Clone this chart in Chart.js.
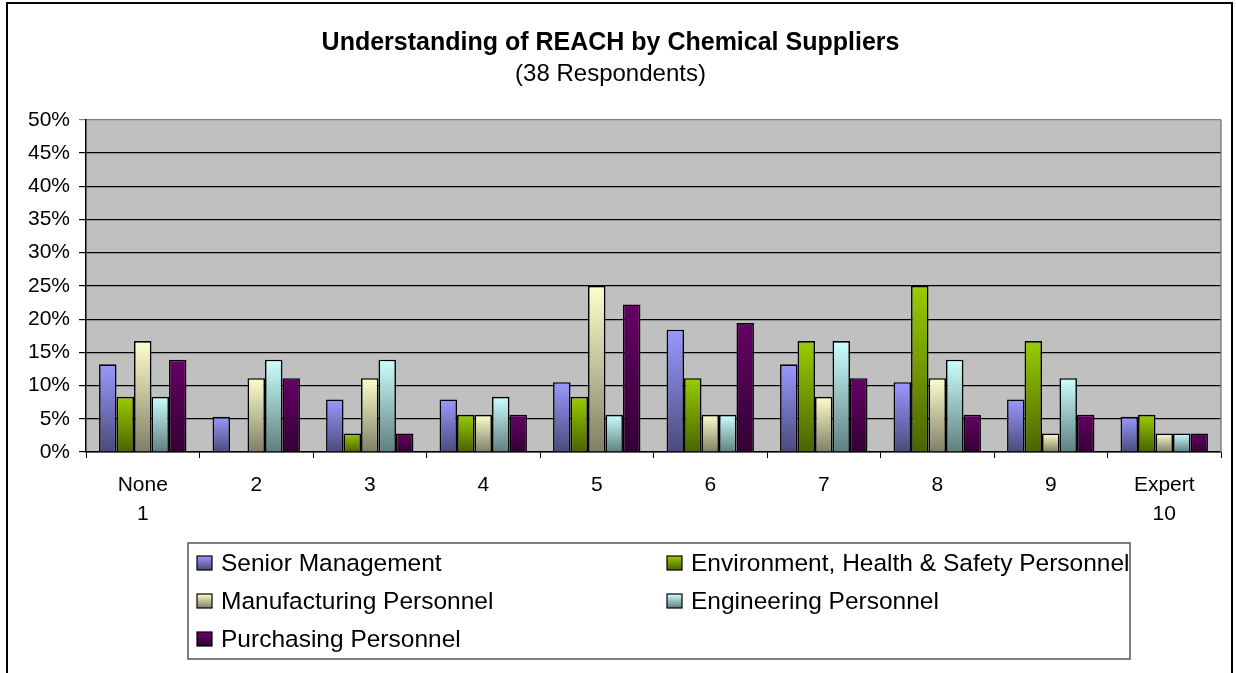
<!DOCTYPE html>
<html>
<head>
<meta charset="utf-8">
<script src="https://cdn.jsdelivr.net/npm/chart.js@4"></script>
<style>
  html, body { margin: 0; padding: 0; background: #fff; }
  #wrap { width: 1236px; height: 673px; }
</style>
</head>
<body>
<div id="wrap"><canvas id="chart"></canvas></div>
<script>
const labels = [["None", "1"], "2", "3", "4", "5", "6", "7", "8", "9", ["Expert", "10"]];
const seriesNames = [
  "Senior Management",
  "Environment, Health & Safety Personnel",
  "Manufacturing Personnel",
  "Engineering Personnel",
  "Purchasing Personnel",
];
const seniorMgmt = [13.2, 5.3, 7.9, 7.9, 10.5, 18.4, 13.2, 10.5, 7.9, 5.3];
const ehsPersonnel = [8.3, 0, 2.8, 5.6, 8.3, 11.1, 16.7, 25.0, 16.7, 5.6];
const manufacturing = [16.7, 11.1, 11.1, 5.6, 25.0, 5.6, 8.3, 11.1, 2.8, 2.8];
const engineering = [8.3, 13.9, 13.9, 8.3, 5.6, 5.6, 16.7, 13.9, 11.1, 2.8];
const purchasing = [13.9, 11.1, 2.8, 5.6, 22.2, 19.4, 11.1, 5.6, 5.6, 2.8];
const yTicks = [0, 5, 10, 15, 20, 25, 30, 35, 40, 45, 50];

const FONT = "'Liberation Sans', Arial, sans-serif";

// top / bottom colour of each bar gradient
const palette = [
  ["#9999ff", "#4a4a7c"],
  ["#99cc00", "#4a6300"],
  ["#ffffcc", "#7f7f66"],
  ["#ccffff", "#5f7f7f"],
  ["#660066", "#330033"],
];

function barFill(ctx) {
  const chart = ctx.chart;
  const c = palette[ctx.datasetIndex];
  if (!chart.chartArea || ctx.type !== "data") return c[0];
  const y = chart.scales.y;
  const top = y.getPixelForValue(ctx.raw);
  const bottom = y.getPixelForValue(0);
  if (bottom - top < 1) return c[0];
  const g = chart.ctx.createLinearGradient(0, top, 0, bottom);
  g.addColorStop(0, c[0]);
  g.addColorStop(1, c[1]);
  return g;
}

const plotBg = {
  id: "plotBg",
  beforeDraw(chart) {
    const { ctx, chartArea: a } = chart;
    ctx.save();
    ctx.fillStyle = "#c0c0c0";
    ctx.fillRect(a.left, a.top, a.right - a.left, a.bottom - a.top);
    ctx.restore();
  },
  afterDraw(chart) {
    const { ctx, chartArea: a } = chart;
    ctx.save();
    // right edge of plot
    ctx.strokeStyle = "#808080";
    ctx.lineWidth = 1.5;
    ctx.beginPath();
    ctx.moveTo(a.right, a.top);
    ctx.lineTo(a.right, a.bottom);
    ctx.stroke();
    // outer frame of the chart
    ctx.strokeStyle = "#000";
    ctx.lineWidth = 2;
    ctx.strokeRect(7, 3, 1225, 700);

    // legend
    const lx = 188, ly = 543, lw = 942, lh = 116;
    ctx.fillStyle = "#fff";
    ctx.fillRect(lx, ly, lw, lh);
    ctx.strokeStyle = "#555";
    ctx.lineWidth = 1.5;
    ctx.strokeRect(lx, ly, lw, lh);
    const cols = [197, 667];
    const rows = [563, 601, 639];
    ctx.font = "24.5px " + FONT;
    ctx.textBaseline = "middle";
    chart.data.datasets.forEach((ds, i) => {
      const x = cols[i % 2];
      const y = rows[Math.floor(i / 2)];
      const g = ctx.createLinearGradient(0, y - 7, 0, y + 7);
      g.addColorStop(0, palette[i][0]);
      g.addColorStop(1, palette[i][1]);
      ctx.fillStyle = g;
      ctx.fillRect(x, y - 7, 15, 14);
      ctx.strokeStyle = "#000";
      ctx.lineWidth = 1.2;
      ctx.strokeRect(x, y - 7, 15, 14);
      ctx.fillStyle = "#000";
      ctx.fillText(ds.label, x + 24, y + 1);
    });
    ctx.restore();
  },
};

const series = [seniorMgmt, ehsPersonnel, manufacturing, engineering, purchasing];

new Chart(document.getElementById("chart"), {
  type: "bar",
  data: {
    labels: labels,
    datasets: series.map((d, i) => ({
      label: seriesNames[i],
      data: d,
      backgroundColor: barFill,
      borderColor: "#000",
      borderWidth: 1.6,
      categoryPercentage: 0.77,
      barPercentage: 1.0,
    })),
  },
  plugins: [plotBg],
  options: {
    responsive: true,
    maintainAspectRatio: false,
    animation: false,
    layout: { padding: { left: 0, right: 15, top: 0, bottom: 141 } },
    plugins: {
      legend: { display: false },
      tooltip: { enabled: false },
      title: {
        display: true,
        text: "Understanding of REACH by Chemical Suppliers",
        color: "#000",
        font: { family: FONT, size: 25, weight: "bold", lineHeight: 1.2 },
        padding: { top: 28, bottom: 2 },
      },
      subtitle: {
        display: true,
        text: "(38 Respondents)",
        color: "#000",
        font: { family: FONT, size: 24, lineHeight: 1.2 },
        padding: { top: 0, bottom: 31 },
      },
    },
    scales: {
      x: {
        offset: true,
        grid: {
          offset: true,
          drawOnChartArea: false,
          color: "#000",
          tickLength: 6,
        },
        border: { color: "#000", width: 1.5 },
        ticks: {
          color: "#000",
          maxRotation: 0,
          autoSkip: false,
          padding: 13,
          font: { family: FONT, size: 21, lineHeight: 1.38 },
        },
        afterFit(scale) { scale.height = 80; },
      },
      y: {
        min: 0,
        max: 50,
        afterBuildTicks(scale) { scale.ticks = yTicks.map(v => ({ value: v })); },
        grid: {
          color: ctx => (ctx.tick && ctx.tick.value === 50 ? "#808080" : "#000"),
          lineWidth: 1.2,
          tickLength: 7,
        },
        border: { color: "#000", width: 1.5 },
        ticks: {
          color: "#000",
          padding: 9,
          callback: v => v + "%",
          font: { family: FONT, size: 21 },
        },
        afterFit(scale) { scale.width = 86; },
      },
    },
  },
});
</script>
</body>
</html>
